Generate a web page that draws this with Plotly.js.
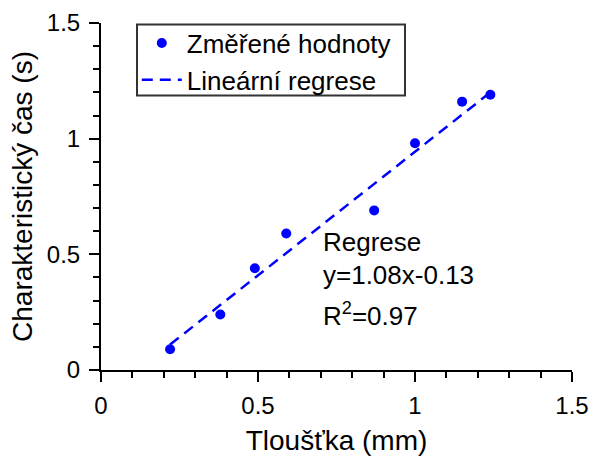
<!DOCTYPE html>
<html>
<head>
<meta charset="utf-8">
<script src="https://cdn.plot.ly/plotly-3.0.1.min.js"></script>
<style>html,body{margin:0;padding:0;background:#fff;}#chart{width:592px;height:456px;}</style>
</head>
<body>
<div id="chart"></div>
<script>
// Measured data
const thickness = [0.22, 0.38, 0.49, 0.59, 0.87, 1.00, 1.15, 1.24];
const charTime  = [0.09, 0.24, 0.44, 0.59, 0.69, 0.98, 1.16, 1.19];
// Regression line endpoints
const fitX = [0.22, 1.24];
const fitY = [0.11, 1.20];
const seriesNames = ["Změřené hodnoty", "Lineární regrese"];
const regLines = ["Regrese", "y=1.08x-0.13", "R<sup>2</sup>=0.97"];
const regLineY = [0.555, 0.41, 0.24];

const font = "Liberation Sans, Arial, sans-serif";
const blue = "#0000ff";

const traces = [
  {x: thickness, y: charTime, mode: "markers", type: "scatter", name: seriesNames[0],
   marker: {color: blue, size: 10}},
  {x: fitX, y: fitY, mode: "lines", type: "scatter", name: seriesNames[1],
   line: {color: blue, width: 2.5, dash: "11px,7px"}}
];

const axisCommon = {
  range: [0, 1.5], dtick: 0.5, tick0: 0, showgrid: false, zeroline: false,
  showline: true, linecolor: "black", linewidth: 2,
  ticks: "outside", ticklen: 10, tickwidth: 2, tickcolor: "black",
  tickfont: {family: font, size: 24, color: "black"},
  minor: {dtick: 0.1, ticks: "outside", ticklen: 6, tickwidth: 2, tickcolor: "black", showgrid: false},
  fixedrange: true
};

const layout = {
  width: 592, height: 456,
  margin: {l: 101, r: 20, t: 23, b: 86},
  paper_bgcolor: "white", plot_bgcolor: "white",
  font: {family: font, color: "black"},
  showlegend: true,
  legend: {x: 0.076, y: 1.01, xanchor: "left", yanchor: "top",
    bgcolor: "rgba(0,0,0,0)", borderwidth: 0,
    font: {family: font, size: 26, color: "black"}, itemwidth: 40, tracegroupgap: 0},
  shapes: [{type: "rect", xref: "paper", yref: "paper",
    x0: (137 - 101) / 471, x1: (405 - 101) / 471,
    y0: (370 - 96) / 346.5, y1: (370 - 25) / 346.5,
    line: {color: "#333", width: 2}, fillcolor: "rgba(0,0,0,0)", layer: "above"}],
  xaxis: Object.assign({}, axisCommon, {
    ticklabelstandoff: 3,
    title: {text: "Tloušťka (mm)", font: {family: font, size: 28, color: "black"}, standoff: 13}
  }),
  yaxis: Object.assign({}, axisCommon, {
    ticklabelstandoff: 4,
    title: {text: "Charakteristický čas (s)", font: {family: font, size: 28, color: "black"}, standoff: 6}
  }),
  annotations: regLines.map((t, i) => ({
    x: 0.70, y: regLineY[i], xref: "x", yref: "y", text: t, showarrow: false,
    xanchor: "left", yanchor: "middle", align: "left",
    font: {family: font, size: 26, color: "black"}
  }))
};

Plotly.newPlot("chart", traces, layout, {displayModeBar: false, staticPlot: true});
</script>
</body>
</html>
